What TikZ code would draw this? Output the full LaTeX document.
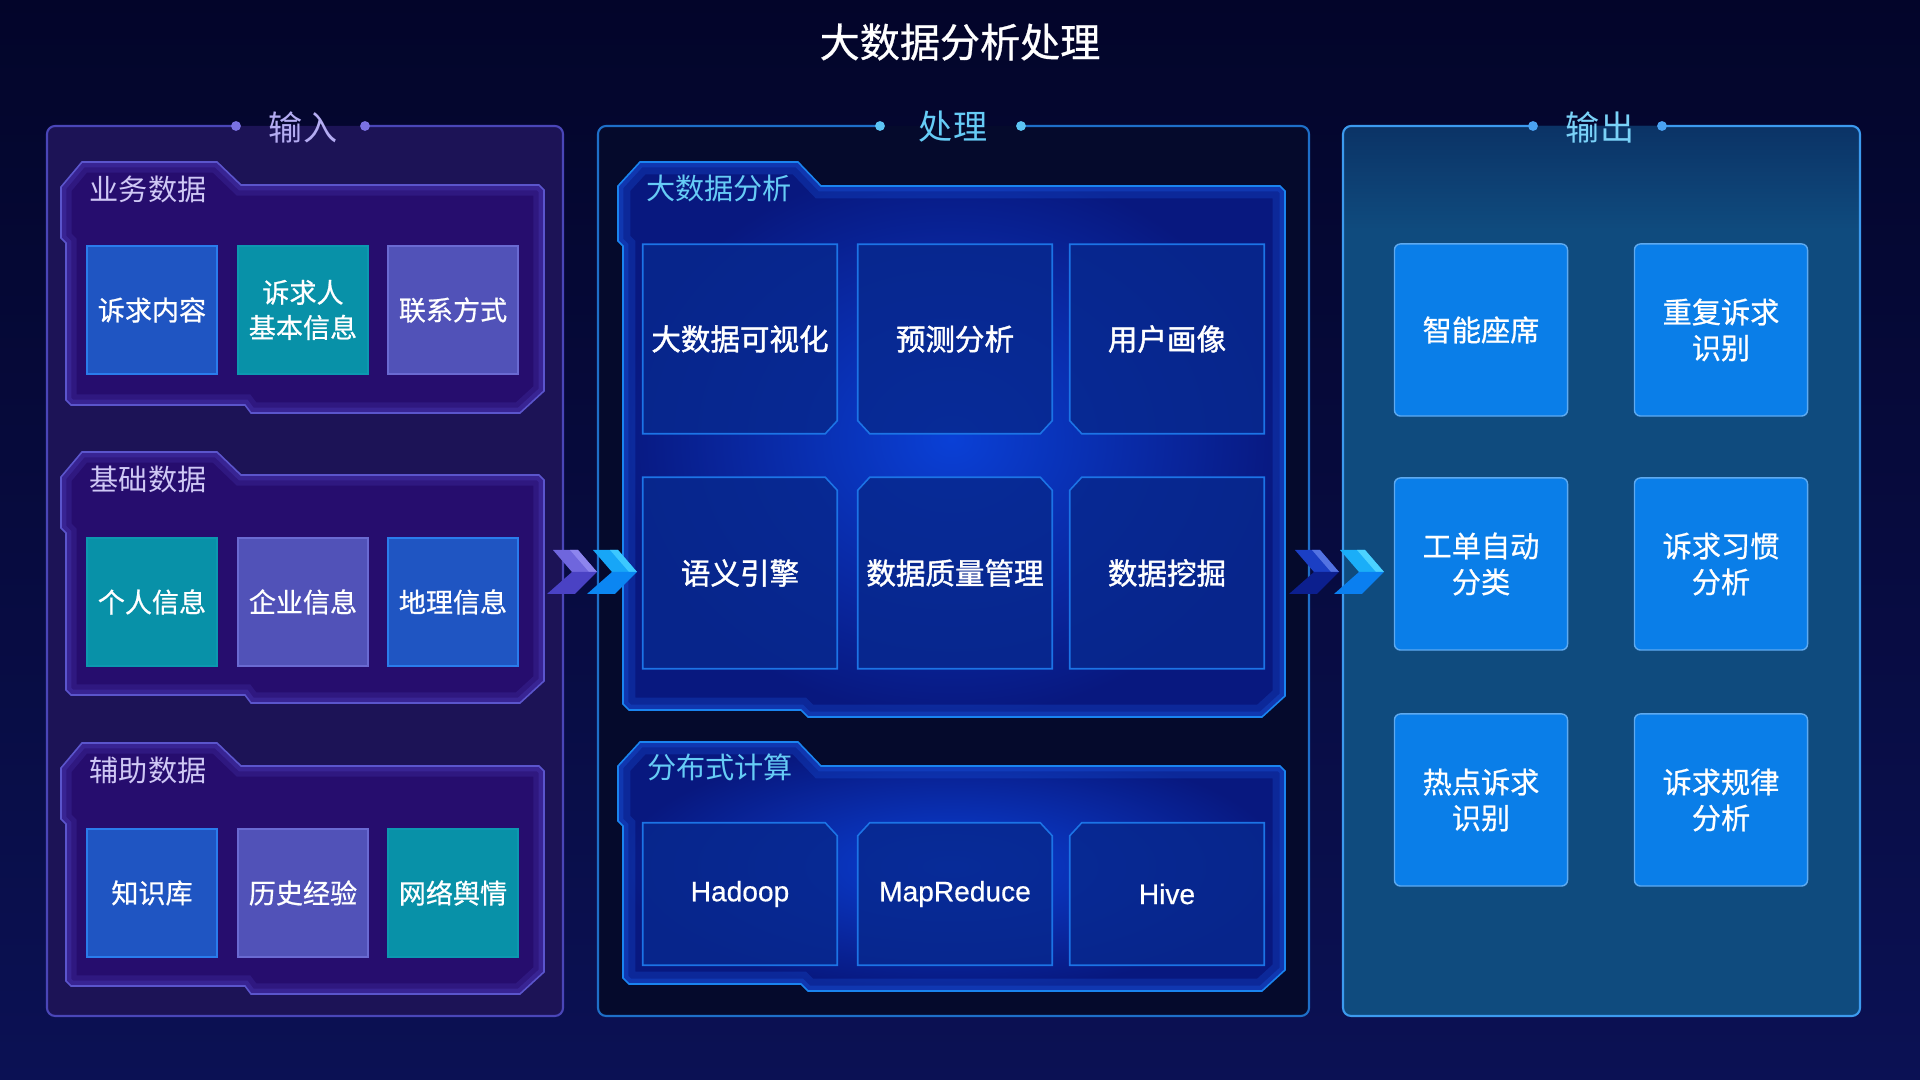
\documentclass[tikz,border=0pt]{standalone}
\usepackage{fontspec}
\setmainfont{Noto Sans CJK SC}
\newfontfamily\cjkmed[FakeBold=0.7]{Noto Sans CJK SC}
\newfontfamily\cjksemi[FakeBold=1.4]{Noto Sans CJK SC}
\newfontfamily\latf[FakeBold=0.5]{Liberation Sans}
\usetikzlibrary{calc}
\pgfdeclarelayer{back}
\pgfdeclarelayer{mid}
\pgfsetlayers{back,mid,main}

\definecolor{bgtop}{HTML}{03052A}
\definecolor{bgbot}{HTML}{0B1154}
\definecolor{inFill}{HTML}{1C1356}
\definecolor{inBorder}{HTML}{4A46B8}
\definecolor{inDot}{HTML}{7A72E2}
\definecolor{inSubFill}{HTML}{260D6E}
\definecolor{inSubBorder}{HTML}{5B55CC}
\definecolor{inGlow}{HTML}{5040C0}
\definecolor{inTitle}{HTML}{B4ACF2}
\definecolor{inLabel}{HTML}{CFC8F5}
\definecolor{cBlue}{HTML}{1F55C2}
\definecolor{cBlueB}{HTML}{2A7CEC}
\definecolor{cTeal}{HTML}{0891A8}
\definecolor{cTealB}{HTML}{0C98B0}
\definecolor{cPurp}{HTML}{5152B8}
\definecolor{cPurpB}{HTML}{6A6AD2}
\definecolor{prFill}{HTML}{050A2C}
\definecolor{prBorder}{HTML}{1E6FC8}
\definecolor{prDot}{HTML}{5CC4F4}
\definecolor{prSubIn}{HTML}{0A40D6}
\definecolor{prSubOut}{HTML}{08187F}
\definecolor{prSubBorder}{HTML}{1A84F0}
\definecolor{prGlow}{HTML}{1A5AE8}
\definecolor{prBox}{HTML}{07288E}
\definecolor{prBoxB}{HTML}{1C74E6}
\definecolor{prTitle}{HTML}{66CCF6}
\definecolor{outFill}{HTML}{0F4B7E}
\definecolor{outTop}{HTML}{0B3366}
\definecolor{outBorder}{HTML}{3C9AEE}
\definecolor{outDot}{HTML}{4AA2F2}
\definecolor{outBox}{HTML}{0A7EE8}
\definecolor{outBoxB}{HTML}{5EAAF0}
\definecolor{outTitle}{HTML}{7AD2F8}
\definecolor{chA}{HTML}{6F66DD}
\definecolor{chAs}{HTML}{8D85EE}
\definecolor{chAb}{HTML}{4A42C4}
\definecolor{chB}{HTML}{17A6F7}
\definecolor{chBs}{HTML}{3CC8FF}
\definecolor{chBb}{HTML}{0B86F2}
\definecolor{chC}{HTML}{1B3FC4}
\definecolor{chCs}{HTML}{5373E2}
\definecolor{chCb}{HTML}{0C1F8E}
\definecolor{chD}{HTML}{1AAEF8}
\definecolor{chDs}{HTML}{4CD2FF}
\definecolor{chDb}{HTML}{0A7FF0}

\newcommand\myfT{\fontsize{11.4pt}{13pt}\selectfont\cjkmed}
\newcommand\myfP{\fontsize{9.7pt}{11pt}\selectfont}
\newcommand\myfS{\fontsize{8.3pt}{10pt}\selectfont}
\newcommand\myfB{\fontsize{7.7pt}{10pt}\selectfont\cjkmed}
\newcommand\myfC{\fontsize{8.4pt}{10pt}\selectfont\cjksemi}
\newcommand\myfO{\fontsize{8.3pt}{10.2pt}\selectfont\cjkmed}
\newcommand\myfL{\fontsize{8pt}{10pt}\selectfont\latf}

% input sub-panel outline, #1 = top of tab
\newcommand\inshape[1]{(82,#1) -- (217,#1) -- (241,{#1+23}) -- (539,{#1+23}) -- (544,{#1+28}) -- (544,{#1+229}) -- (520,{#1+251}) -- (251,{#1+251}) -- (245,{#1+243}) -- (71,{#1+243}) -- (66,{#1+238}) -- (66,{#1+81}) -- (61,{#1+76}) -- (61,{#1+25}) -- cycle}
% process sub-panel outline, #1 = top of tab, #2 = bottom
\newcommand\prshape[2]{(640,#1) -- (798,#1) -- (821,{#1+24}) -- (1280,{#1+24}) -- (1285,{#1+29}) -- (1285,{#2-21}) -- (1262,#2) -- (808,#2) -- (801,{#2-7}) -- (629,{#2-7}) -- (623,{#2-13}) -- (623,{#1+84}) -- (618,{#1+79}) -- (618,{#1+24}) -- cycle}

\newcommand\insub[1]{%
  \fill[inSubFill] \inshape{#1};
  \begin{scope}
    \clip \inshape{#1};
    \draw[inGlow, line width=6pt, opacity=.22] \inshape{#1};
    \draw[inGlow, line width=3pt, opacity=.3] \inshape{#1};
  \end{scope}
  \draw[inSubBorder, line width=.45pt] \inshape{#1};}
\newcommand\prsub[2]{%
  \shade[inner color=prSubIn, outer color=prSubOut] \prshape{#1}{#2};
  \begin{scope}
    \clip \prshape{#1}{#2};
    \draw[prGlow, line width=7pt, opacity=.25] \prshape{#1}{#2};
    \draw[prGlow, line width=3pt, opacity=.3] \prshape{#1}{#2};
  \end{scope}
  \draw[prSubBorder, line width=.45pt] \prshape{#1}{#2};}

% chevron with tip at x=#1
\newcommand\chev[4]{%
  \fill[#2] ({#1-44},550) -- ({#1-19},550) -- (#1,572) -- ({#1-25},572) -- cycle;
  \fill[#3] ({#1-27},550) -- ({#1-19},550) -- (#1,572) -- ({#1-8},572) -- cycle;
  \fill[#4] ({#1-25},572) -- (#1,572) -- ({#1-22},594) -- ({#1-50},594) -- cycle;}

\begin{document}
\begin{tikzpicture}[x=0.01cm, y=-0.01cm,
  inbox/.style={rectangle, inner sep=0pt, align=center, text=white, font=\myfB,
    minimum width=1.30cm, minimum height=1.28cm, line width=.4pt},
  prbox/.style={rectangle, inner sep=0pt, align=center, text=white, font=\myfC,
    minimum width=1.93cm},
  pbody/.style={fill=prBox, fill opacity=.85, draw=prBoxB, line width=.45pt},
  outbx/.style={rectangle, rounded corners=1.7pt, inner sep=0pt, align=center,
    text=white, font=\myfO, fill=outBox, draw=outBoxB, line width=.4pt,
    minimum width=1.73cm, minimum height=1.72cm},
  ptitle/.style={inner sep=0pt, font=\myfP},
  slabel/.style={inner sep=0pt, font=\myfS}]
\useasboundingbox (0,0) rectangle (1920,1080);

\begin{pgfonlayer}{back}
\shade[top color=bgtop, bottom color=bgbot] (0,0) rectangle (1920,1080);
% input frame
\fill[inFill, rounded corners=2.3pt] (47,126) rectangle (563,1016);
\draw[inBorder, line width=.6pt, rounded corners=2.3pt] (365,126) -- (563,126) -- (563,1016) -- (47,1016) -- (47,126) -- (236,126);
\fill[inDot] (236,126) circle[radius=1.4pt] (365,126) circle[radius=1.4pt];
% process frame
\fill[prFill, rounded corners=2.3pt] (598,126) rectangle (1309,1016);
\draw[prBorder, line width=.6pt, rounded corners=2.3pt] (1021,126) -- (1309,126) -- (1309,1016) -- (598,1016) -- (598,126) -- (880,126);
\fill[prDot] (880,126) circle[radius=1.4pt] (1021,126) circle[radius=1.4pt];
% output frame
\fill[outFill, rounded corners=2.3pt] (1343,126) rectangle (1860,1016);
\shade[top color=outTop, bottom color=outFill, rounded corners=2.3pt] (1343,230) -- (1343,126) -- (1860,126) -- (1860,230) -- cycle;
\draw[outBorder, line width=.6pt, rounded corners=2.3pt] (1662,126) -- (1860,126) -- (1860,1016) -- (1343,1016) -- (1343,126) -- (1533,126);
\fill[outDot] (1533,126) circle[radius=1.4pt] (1662,126) circle[radius=1.4pt];
% sub-panels
\insub{162}
\insub{452}
\insub{743}
\prsub{162}{717}
\prsub{742}{991}
\end{pgfonlayer}

% titles
\node[inner sep=0pt, font=\myfT, text=white] (title) at (960,42) {大数据分析处理};
\node[ptitle, text=inTitle] (tin) at (303,127) {输入};
\node[ptitle, text=prTitle] (tpr) at (953,127) {处理};
\node[ptitle, text=outTitle] (tout) at (1600,127) {输出};

% input labels and boxes
\node[slabel, text=inLabel] (l1) at (148,189) {业务数据};
\node[slabel, text=inLabel] (l2) at (148,479) {基础数据};
\node[slabel, text=inLabel] (l3) at (148,770) {辅助数据};

\node[inbox, fill=cBlue, draw=cBlueB] (i11) at (152,310) {诉求内容};
\node[inbox, fill=cTeal, draw=cTealB] (i12) at (303,310) {诉求人\\基本信息};
\node[inbox, fill=cPurp, draw=cPurpB] (i13) at (453,310) {联系方式};
\node[inbox, fill=cTeal, draw=cTealB] (i21) at (152,602) {个人信息};
\node[inbox, fill=cPurp, draw=cPurpB] (i22) at (303,602) {企业信息};
\node[inbox, fill=cBlue, draw=cBlueB] (i23) at (453,602) {地理信息};
\node[inbox, fill=cBlue, draw=cBlueB] (i31) at (152,893) {知识库};
\node[inbox, fill=cPurp, draw=cPurpB] (i32) at (303,893) {历史经验};
\node[inbox, fill=cTeal, draw=cTealB] (i33) at (453,893) {网络舆情};

% process labels and boxes
\node[slabel, text=prTitle] (l4) at (719,188) {大数据分析};
\node[slabel, text=prTitle] (l5) at (720,767) {分布式计算};

\node[prbox, minimum height=1.88cm] (p11) at (740,339) {大数据可视化};
\node[prbox, minimum height=1.88cm] (p12) at (955,339) {预测分析};
\node[prbox, minimum height=1.88cm] (p13) at (1167,339) {用户画像};
\node[prbox, minimum height=1.90cm] (p21) at (740,573) {语义引擎};
\node[prbox, minimum height=1.90cm] (p22) at (955,573) {数据质量管理};
\node[prbox, minimum height=1.90cm] (p23) at (1167,573) {数据挖掘};
\node[prbox, minimum height=1.41cm, font=\myfL] (p31) at (740,894) {Hadoop};
\node[prbox, minimum height=1.41cm, font=\myfL] (p32) at (955,894) {MapReduce};
\node[prbox, minimum height=1.41cm, font=\myfL] (p33) at (1167,894) {Hive};

\begin{pgfonlayer}{mid}
\path[pbody] (p11.north west) -- (p11.north east) -- ($(p11.south east)+(0,-13)$) -- ($(p11.south east)+(-12,0)$) -- (p11.south west) -- cycle;
\path[pbody] (p12.north west) -- (p12.north east) -- ($(p12.south east)+(0,-13)$) -- ($(p12.south east)+(-12,0)$) -- ($(p12.south west)+(12,0)$) -- ($(p12.south west)+(0,-13)$) -- cycle;
\path[pbody] (p13.north west) -- (p13.north east) -- (p13.south east) -- ($(p13.south west)+(12,0)$) -- ($(p13.south west)+(0,-13)$) -- cycle;
\foreach \r in {2,3}{
\path[pbody] (p\r1.north west) -- ($(p\r1.north east)+(-12,0)$) -- ($(p\r1.north east)+(0,13)$) -- (p\r1.south east) -- (p\r1.south west) -- cycle;
\path[pbody] ($(p\r2.north west)+(0,13)$) -- ($(p\r2.north west)+(12,0)$) -- ($(p\r2.north east)+(-12,0)$) -- ($(p\r2.north east)+(0,13)$) -- (p\r2.south east) -- (p\r2.south west) -- cycle;
\path[pbody] ($(p\r3.north west)+(0,13)$) -- ($(p\r3.north west)+(12,0)$) -- (p\r3.north east) -- (p\r3.south east) -- (p\r3.south west) -- cycle;
}
\end{pgfonlayer}

% output boxes
\node[outbx] (o11) at (1481,330) {智能座席};
\node[outbx] (o12) at (1721,330) {重复诉求\\识别};
\node[outbx] (o21) at (1481,564) {工单自动\\分类};
\node[outbx] (o22) at (1721,564) {诉求习惯\\分析};
\node[outbx] (o31) at (1481,800) {热点诉求\\识别};
\node[outbx] (o32) at (1721,800) {诉求规律\\分析};

% flow chevrons
\chev{597}{chA}{chAs}{chAb}
\chev{637}{chB}{chBs}{chBb}
\chev{1339}{chC}{chCs}{chCb}
\chev{1384}{chD}{chDs}{chDb}
\end{tikzpicture}
\end{document}
